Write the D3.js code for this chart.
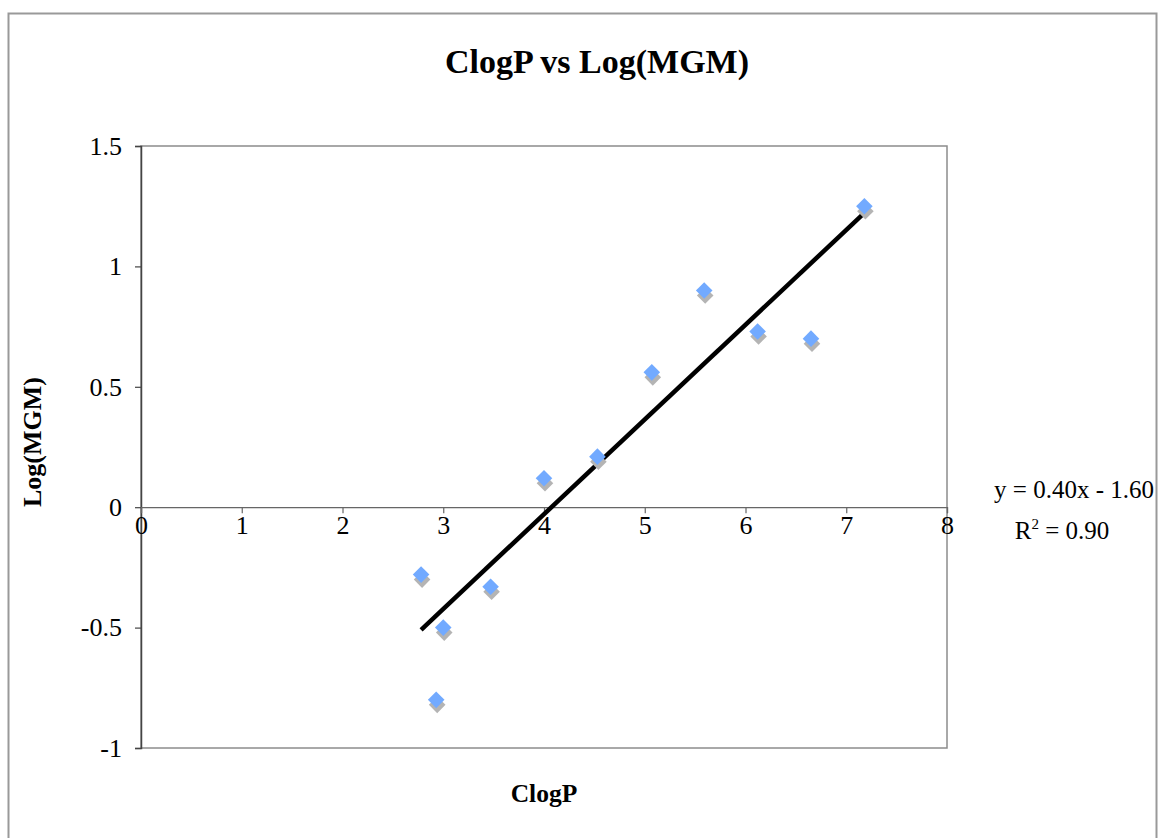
<!DOCTYPE html>
<html>
<head>
<meta charset="utf-8">
<script src="https://cdn.jsdelivr.net/npm/d3@7"></script>
<style>
	body { margin: 0; background: #fff; }
	svg { display: block; font-family: "Liberation Serif", "Times New Roman", serif; }
</style>
</head>
<body>
<div id="chart"></div>
<script>
const clogP = [2.78, 2.93, 3.00, 3.47, 4.00, 4.53, 5.07, 5.59, 6.12, 6.65, 7.18];
const logMGM = [-0.28, -0.80, -0.50, -0.33, 0.12, 0.21, 0.56, 0.90, 0.73, 0.70, 1.25];
const xTicks = [0, 1, 2, 3, 4, 5, 6, 7, 8];
const yTicks = [-1, -0.5, 0, 0.5, 1, 1.5];
const equationText = "y = 0.40x - 1.60";
const r2Value = "0.90";

const W = 1159, H = 838;
const plot = {left: 141, top: 146, right: 947, bottom: 748};
const FONT = "Liberation Serif";

const svg = d3.select("#chart").append("svg")
	.attr("width", W)
	.attr("height", H);

// outer chart frame
svg.append("rect")
	.attr("x", 8.5).attr("y", 13.5)
	.attr("width", 1148).attr("height", 840)
	.attr("fill", "none").attr("stroke", "#999").attr("stroke-width", 2);

const x = d3.scaleLinear().domain([0, 8]).range([plot.left, plot.right]);
const y = d3.scaleLinear().domain([-1, 1.5]).range([plot.bottom, plot.top]);

// plot area border
svg.append("rect")
	.attr("x", plot.left).attr("y", plot.top)
	.attr("width", plot.right - plot.left).attr("height", plot.bottom - plot.top)
	.attr("fill", "none").attr("stroke", "#8c8c8c").attr("stroke-width", 1.5);

// y axis on the left edge
const yAxis = svg.append("g")
	.attr("transform", `translate(${plot.left},0)`)
	.call(d3.axisLeft(y).tickValues(yTicks).tickSize(6).tickPadding(13).tickFormat((d) => String(d)));
yAxis.select(".domain").attr("stroke", "#444").attr("stroke-width", 1.5);
yAxis.selectAll(".tick line").attr("stroke", "#444").attr("stroke-width", 1.2);
yAxis.selectAll("text")
	.style("font-size", "26px").style("font-family", FONT).attr("fill", "#000");

// x axis crossing at y = 0
const xAxis = svg.append("g")
	.attr("transform", `translate(0,${y(0)})`)
	.call(d3.axisBottom(x).tickValues(xTicks).tickSize(6).tickPadding(2).tickFormat((d) => String(d)));
xAxis.select(".domain").attr("stroke", "#666").attr("stroke-width", 1.2);
xAxis.selectAll(".tick line").attr("stroke", "#666").attr("stroke-width", 1.2);
xAxis.selectAll("text")
	.style("font-size", "26px").style("font-family", FONT).attr("fill", "#000");

// linear least squares trendline
const mx = d3.mean(clogP), my = d3.mean(logMGM);
const slope = d3.sum(clogP, (v, i) => (v - mx) * (logMGM[i] - my)) / d3.sum(clogP, (v) => (v - mx) ** 2);
const intercept = my - slope * mx;

const xMin = d3.min(clogP), xMax = d3.max(clogP);
svg.append("line")
	.attr("x1", x(xMin)).attr("y1", y(slope * xMin + intercept))
	.attr("x2", x(xMax)).attr("y2", y(slope * xMax + intercept))
	.attr("stroke", "#000").attr("stroke-width", 4.5);

// diamonds with a grey drop shadow
const pts = clogP.map((v, i) => ({x: v, y: logMGM[i]}));
const diamond = d3.symbol().type(d3.symbolDiamond2).size(175);
svg.append("g").selectAll("path.shadow")
	.data(pts).enter().append("path")
	.attr("class", "shadow")
	.attr("d", diamond)
	.attr("transform", (d) => `translate(${x(d.x) + 1},${y(d.y) + 5})`)
	.attr("fill", "#b4b4b4");
svg.append("g").selectAll("path.pt")
	.data(pts).enter().append("path")
	.attr("class", "pt")
	.attr("d", diamond)
	.attr("transform", (d) => `translate(${x(d.x)},${y(d.y)})`)
	.attr("fill", "#72aaff");

// title and axis labels
svg.append("text")
	.attr("x", 597).attr("y", 73)
	.attr("text-anchor", "middle")
	.attr("font-size", 34).attr("font-weight", "bold")
	.text("ClogP vs Log(MGM)");

svg.append("text")
	.attr("x", 544).attr("y", 802)
	.attr("text-anchor", "middle")
	.attr("font-size", 25.5).attr("font-weight", "bold")
	.text("ClogP");

svg.append("text")
	.attr("transform", "translate(41,442) rotate(-90)")
	.attr("text-anchor", "middle")
	.attr("font-size", 26).attr("font-weight", "bold")
	.text("Log(MGM)");

// equation label
svg.append("text")
	.attr("x", 1074).attr("y", 498)
	.attr("text-anchor", "middle")
	.attr("font-size", 25)
	.text(equationText);

const r2Text = svg.append("text")
	.attr("x", 1062).attr("y", 539)
	.attr("text-anchor", "middle")
	.attr("font-size", 25);
r2Text.append("tspan").text("R");
r2Text.append("tspan").attr("dy", -10).attr("font-size", 15).text("2");
r2Text.append("tspan").attr("dy", 10).text(` = ${r2Value}`);
</script>
</body>
</html>
